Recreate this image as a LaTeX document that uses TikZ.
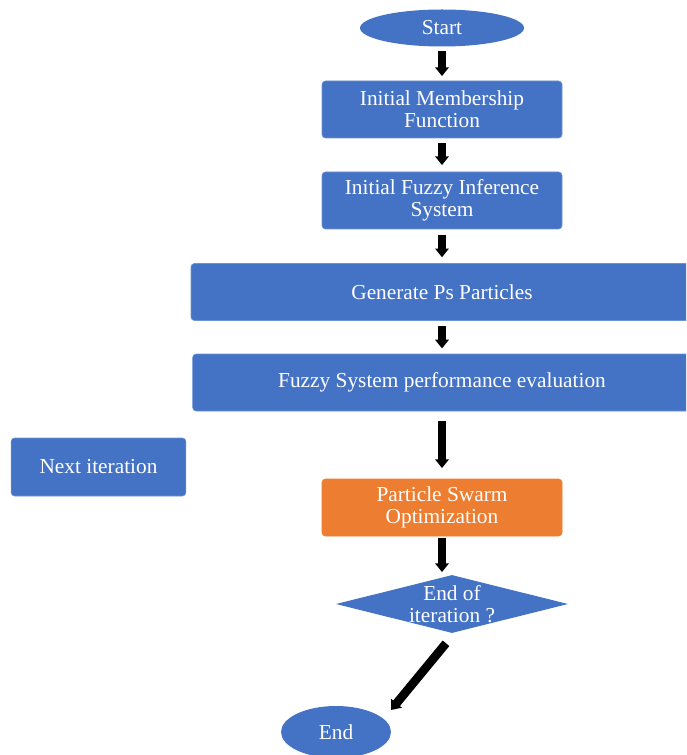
\documentclass[tikz,border=0pt]{standalone}
\usepackage{fontspec}
\setmainfont{Liberation Serif}
\usetikzlibrary{shapes.geometric, arrows.meta, calc}
\definecolor{box-blue}{HTML}{4472C4}
\definecolor{box-edge}{HTML}{6E93D6}
\definecolor{box-orange}{HTML}{ED7D31}

\begin{document}
\begin{tikzpicture}[x=0.75pt, y=-0.75pt,
        every node/.style={font=\fontsize{16}{16.5}\selectfont, text=white, align=center},
        flowbox/.style={draw=box-edge, fill=box-blue, rounded corners=2.5pt,
            minimum width=180pt, minimum height=42.75pt},
        flowarrow/.style={-{Triangle[width=10pt, length=6.5pt]}, line width=5.5pt, black}]
      \useasboundingbox (0,0) rectangle (686,755);
      \clip (0,0) rectangle (686,755);
      \node[ellipse, fill=box-blue, inner sep=0pt, minimum width=123pt, minimum height=27.75pt]
            (start) at (442,28) {Start};
      \node[flowbox] (memb) at (442,109.5) {Initial Membership\\Function};
      \node[flowbox] (fis) at (442,200.5) {Initial Fuzzy Inference\\System};
      \node[flowbox, minimum width=376.5pt] (gen) at (442,292) {Generate Ps Particles};
      \node[flowbox, minimum width=374pt] (eval) at (442,382.5) {Fuzzy System performance evaluation};
      \node[flowbox, minimum width=131pt, minimum height=43.5pt] (next) at (98.5,467) {Next iteration};
      \node[flowbox, draw=box-orange, fill=box-orange] (pso) at (442,507.5) {Particle Swarm\\Optimization};
      \node[diamond, fill=box-blue, inner sep=0pt, minimum width=174pt, minimum height=43.5pt]
            (dec) at (452,604) {};
      \node (dectext) at (dec.center) {End of\\iteration ?};
      \node[ellipse, fill=box-blue, inner sep=0pt, minimum width=82.5pt, minimum height=39pt]
            (fin) at (336,732) {End};
      % connectors
      \draw[flowarrow, shorten <=3.5pt, shorten >=3.5pt] (start) -- (memb);
      \draw[flowarrow, shorten <=3.5pt, shorten >=5pt] (memb) -- (fis);
      \draw[flowarrow, shorten <=4pt, shorten >=4.5pt] (fis) -- (gen);
      \draw[flowarrow, shorten <=4pt, shorten >=4pt] (gen) -- (eval);
      \draw[flowarrow, shorten <=7pt, shorten >=8pt] (eval) -- (pso);
      \coordinate (decin) at (pso.south |- dec.north);
      \draw[flowarrow, shorten <=1.5pt, shorten >=2pt] (pso.south) -- (decin);
      \coordinate (decout) at ($(dec.south)+(-6,10)$);
      \coordinate (finin) at ($(fin.center)+(55,-22)$);
      \draw[flowarrow, line width=6.5pt] (decout) -- (finin);
    \end{tikzpicture}
\end{document}
